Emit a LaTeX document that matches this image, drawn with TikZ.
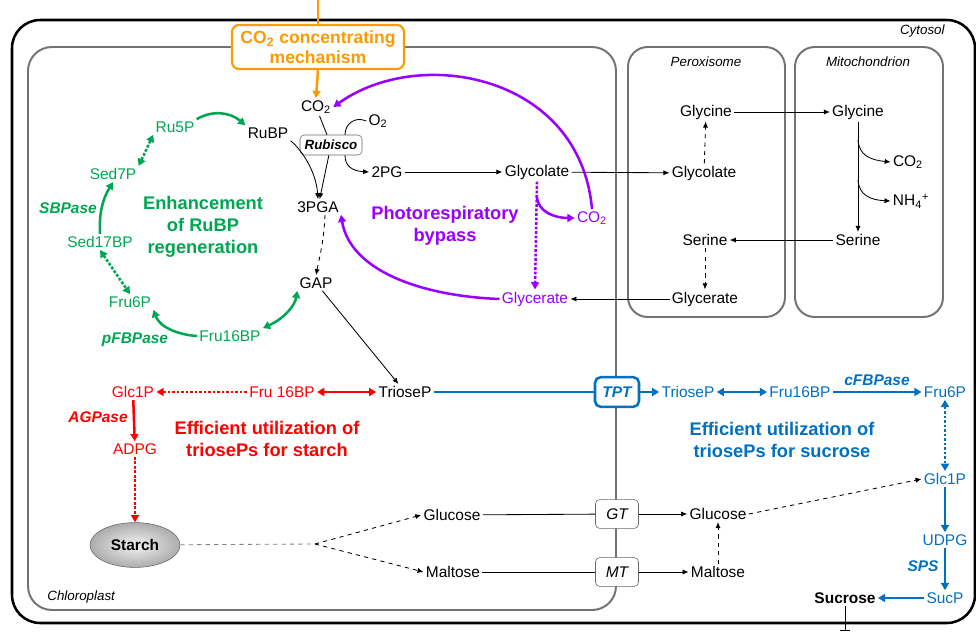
\documentclass[tikz,border=0pt]{standalone}
\usepackage{fontspec}
\setmainfont{Liberation Sans}
\usepackage{tikz}
\usetikzlibrary{arrows.meta, calc, shapes.geometric}

\definecolor{grn}{RGB}{0,166,81}
\definecolor{rd}{RGB}{255,0,0}
\definecolor{blu}{RGB}{0,112,192}
\definecolor{prp}{RGB}{153,0,255}
\definecolor{orng}{RGB}{255,153,0}

\begin{document}
\begin{tikzpicture}[x=0.025cm, y=-0.025cm,
  every node/.style={font=\fontsize{11}{13}\selectfont, inner sep=1.5pt},
  arr/.style={-{Latex[length=1.5mm, width=1.3mm]}, line width=0.6pt},
  thk/.style={line width=1.8pt, -{Triangle[length=1.8mm, width=2mm]}},
  dbl/.style={line width=1.8pt, {Triangle[length=1.8mm, width=2mm]}-{Triangle[length=1.8mm, width=2mm]}},
  dots/.style={dash pattern=on 2pt off 1.2pt},
  head/.style={font=\fontsize{13}{15.5}\selectfont\bfseries, align=center},
  enz/.style={font=\fontsize{11}{13}\selectfont\bfseries\itshape},
  comp/.style={font=\fontsize{9.5}{11}\selectfont\itshape},
  membox/.style={draw=black!55, line width=1.4pt, rounded corners=14pt},
  tbox/.style={draw=black!60, fill=white, rounded corners=3pt, minimum width=1.075cm, minimum height=0.72cm, font=\fontsize{11}{13}\selectfont\itshape}
]
  \useasboundingbox (0,0) rectangle (976,632);

  % compartments
  \draw[line width=1.8pt, rounded corners=20pt] (12,20) rectangle (975,623);
  \draw[membox, rounded corners=17pt] (28,47) rectangle (616,610);
  \draw[membox] (628,47) rectangle (785,317);
  \draw[membox] (795,47) rectangle (943,317);
  \node[comp, anchor=east] (cyt) at (947,31) {Cytosol};
  \node[comp] (per) at (706,62) {Peroxisome};
  \node[comp] (mit) at (868,62) {Mitochondrion};
  \node[comp, anchor=west] (chl) at (45,597) {Chloroplast};

  % carbon fixation
  \node[draw=orng, line width=1.5pt, rounded corners=5pt, fill=white, text=orng, minimum width=4.3cm, minimum height=1.1cm, inner sep=0pt, font=\fontsize{12.5}{14}\selectfont\bfseries, align=center] (ccm) at (318,47) {CO\textsubscript{2} concentrating\\mechanism};
  \coordinate (ccmin) at (318,0);
  \node (co2) at (316,107) {CO\textsubscript{2}};
  \node[draw=black!60, fill=white, rounded corners=3pt, minimum width=1.55cm, minimum height=0.5cm, inner sep=0pt, font=\fontsize{9.5}{11}\selectfont\bfseries\itshape] (rub) at (331,145) {Rubisco};
  \node (o2) at (378,121) {O\textsubscript{2}};
  \node (rubp) at (268,133) {RuBP};
  \node (pga) at (318,207) {3PGA};
  \node (gap) at (316,283) {GAP};
  \node (pg2) at (387,172) {2PG};
  \node (glyc) at (537,172) {Glycolate};

  \draw[orng, line width=1.8pt] (ccmin) -- (ccm.north);
  \draw[orng, thk] (ccm.south) -- (co2.north);
  \draw[line width=0.6pt] (co2) -- (rub);
  \draw[arr] (rub) -- (pga);
  \draw[line width=0.6pt] (o2.west) .. controls (355,116) and (345,124) .. ($(rub.north)+(14,0)$);
  \draw[arr] ($(rub.south)+(14,0)$) .. controls (345,166) and (352,171) .. (pg2.west);
  \draw[arr] (rubp.south east) .. controls (300,148) and (316,170) .. (pga.north);
  \draw[arr, dashed] ($(pga.south)+(7,0)$) .. controls (324,240) and (320,255) .. (gap.north);
  \draw[arr] (pg2) -- (glyc);

  % photorespiration
  \node (pglyc) at (704,173) {Glycolate};
  \node (pgly) at (706,112) {Glycine};
  \node (mgly) at (858,112) {Glycine};
  \node (mco2) at (908,162) {CO\textsubscript{2}};
  \node (mnh) at (911,201) {NH\textsubscript{4}\textsuperscript{+}};
  \node (mser) at (858,240) {Serine};
  \node (pser) at (705,240) {Serine};
  \node (pglyr) at (705,299) {Glycerate};
  \node[text=prp] (glyr) at (535,299) {Glycerate};
  \node[text=prp] (pco2) at (592,218) {CO\textsubscript{2}};
  \node[head, text=prp] (byp) at (445,226) {Photorespiratory\\bypass};
  \coordinate (br1) at (858,140);
  \coordinate (br2) at (858,180);
  \coordinate (br3) at (537,197);

  \draw[arr] (glyc) -- (pglyc);
  \draw[arr, dashed] (pglyc) -- (pgly);
  \draw[arr] (pgly) -- (mgly);
  \draw[arr] (mgly) -- (mser);
  \draw[arr] (br1) .. controls (859,155) and (870,160) .. (mco2.west);
  \draw[arr] (br2) .. controls (859,195) and (870,200) .. (mnh.west);
  \draw[arr] (mser) -- (pser);
  \draw[arr, dashed] (pser) -- (pglyr);
  \draw[arr] (pglyr) -- (glyr);
  \draw[prp, thk, dots] (glyc.south) -- (glyr.north);
  \draw[prp, thk] (br3) .. controls (538,212) and (555,218) .. (pco2.west);
  \draw[prp, thk] (pco2.north) .. controls (580,75) and (420,45) .. (co2.east);
  \draw[prp, thk] (glyr.west) .. controls (420,296) and (350,270) .. (pga.south east);

  % RuBP regeneration
  \node[text=grn] (ru5p) at (175,127) {Ru5P};
  \node[text=grn] (sed7) at (113,174) {Sed7P};
  \node[enz, text=grn] (sbp) at (68,208) {SBPase};
  \node[text=grn] (sed17) at (100,242) {Sed17BP};
  \node[text=grn] (fru6g) at (130,302) {Fru6P};
  \node[enz, text=grn] (pfbp) at (135,340) {pFBPase};
  \node[text=grn] (fru16g) at (230,336) {Fru16BP};
  \node[head, text=grn] (enh) at (203,227) {Enhancement\\of RuBP\\regeneration};

  \draw[grn, thk] (ru5p.north east) .. controls (212,110) and (230,112) .. (rubp.north west);
  \draw[grn, dbl, dots] (ru5p.south west) -- (sed7.north east);
  \draw[grn, thk] (sed17.north) .. controls (99,215) and (102,200) .. (sed7.south);
  \draw[grn, dbl, dots] (sed17.south) -- (fru6g.north);
  \draw[grn, thk] (fru16g.west) .. controls (180,335) and (160,328) .. (fru6g.south east);
  \draw[grn, dbl] (fru16g.north east) .. controls (285,318) and (295,305) .. (gap.south west);

  % starch
  \node[text=rd] (glc1r) at (133,392) {Glc1P};
  \node[text=rd] (fru16r) at (282,392) {Fru 16BP};
  \node (tp) at (405,392) {TrioseP};
  \node[enz, text=rd] (agp) at (98,417) {AGPase};
  \node[text=rd] (adpg) at (135,449) {ADPG};
  \node[ellipse, draw=black!60, inner color=gray!10, outer color=gray!65, minimum width=2.25cm, minimum height=1.12cm, font=\fontsize{11}{13}\selectfont\bfseries] (starch) at (135,545) {Starch};
  \node[head, text=rd] (effst) at (267,439) {Efficient utilization of\\triosePs for starch};

  \draw[arr] (gap) -- (tp);
  \draw[rd, thk, dots] (fru16r) -- (glc1r);
  \draw[rd, dbl] (fru16r) -- (tp);
  \draw[rd, thk] (glc1r) -- (adpg);
  \draw[rd, thk, dots] (adpg) -- (starch);

  % starch breakdown
  \coordinate (split) at (315,544);
  \node (glu) at (452,515) {Glucose};
  \node (mal) at (453,572) {Maltose};
  \node[tbox] (gt) at (617,514) {GT};
  \node[tbox] (mt) at (617,572) {MT};
  \node (gluc) at (718,514) {Glucose};
  \node (malc) at (718,572) {Maltose};

  \draw[gray, dashed, line width=0.6pt] (starch) -- (split);
  \draw[arr, dashed] (split) -- (glu.west);
  \draw[arr, dashed] (split) -- (mal.west);
  \draw[line width=0.6pt] (glu) -- (gt);
  \draw[line width=0.6pt] (mal) -- (mt);
  \draw[arr] (gt) -- (gluc);
  \draw[arr] (mt) -- (malc);
  \draw[arr, dashed] (malc) -- (gluc);

  % sucrose
  \node[draw=blu, line width=1.8pt, fill=white, rounded corners=4pt, minimum width=1.1cm, minimum height=0.74cm, inner sep=0pt, text=blu, font=\fontsize{11}{13}\selectfont\bfseries\itshape] (tpt) at (617,392) {TPT};
  \node[text=blu] (tpc) at (688,392) {TrioseP};
  \node[text=blu] (fru16b) at (800,392) {Fru16BP};
  \node[text=blu] (fru6b) at (945,392) {Fru6P};
  \node[enz, text=blu] (cfbp) at (877,380) {cFBPase};
  \node[text=blu] (glc1b) at (945,479) {Glc1P};
  \node[text=blu] (udpg) at (945,540) {UDPG};
  \node[enz, text=blu] (sps) at (923,566) {SPS};
  \node[text=blu] (sucp) at (945,598) {SucP};
  \node[font=\fontsize{11}{13}\selectfont\bfseries] (sucr) at (845,598) {Sucrose};
  \node[head, text=blu] (effsu) at (782,440) {Efficient utilization of\\triosePs for sucrose};
  \coordinate (sucout) at (845,631);

  \draw[blu, line width=1.8pt] (tp) -- (tpt);
  \draw[blu, thk] (tpt) -- (tpc);
  \draw[blu, dbl] (tpc) -- (fru16b);
  \draw[blu, thk] (fru16b) -- (fru6b);
  \draw[blu, dbl, dots] (fru6b) -- (glc1b);
  \draw[arr, dashed] (gluc.east) -- (glc1b.west);
  \draw[blu, thk] (glc1b) -- (udpg);
  \draw[blu, thk] (udpg) -- (sucp);
  \draw[blu, thk] (sucp) -- (sucr);
  \draw[line width=0.6pt, -{Bar[width=2.5mm]}] (sucr) -- (sucout);
\end{tikzpicture}
\end{document}
